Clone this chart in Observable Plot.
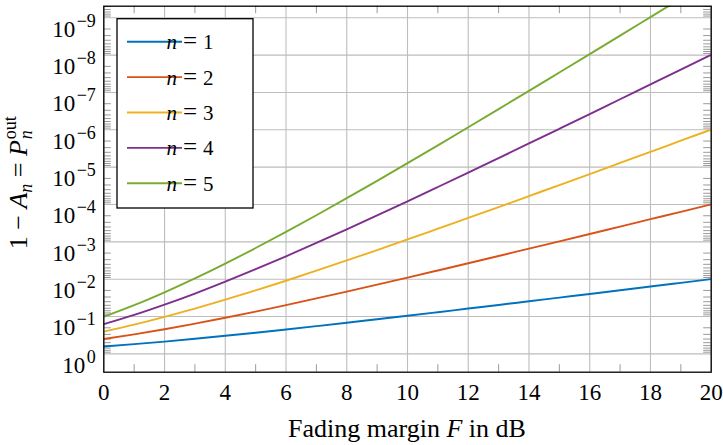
<!DOCTYPE html>
<html>
<head>
<meta charset="utf-8">
<script src="https://cdn.jsdelivr.net/npm/d3@7"></script>
<script src="https://cdn.jsdelivr.net/npm/@observablehq/plot@0.6"></script>
<style>
  html, body { margin: 0; padding: 0; background: #fff; }
  svg { display: block; }
  svg text, svg tspan { font-family: 'Liberation Serif', 'Times New Roman', Times, serif !important; }
</style>
</head>
<body>
<div id="chart"></div>
<script>
// ---- data ----
const fadingMarginDb = [0,1,2,3,4,5,6,7,8,9,10,11,12,13,14,15,16,17,18,19,20];
const seriesN = [1, 2, 3, 4, 5];
const seriesColors = ["#0072BD", "#D95319", "#EDB120", "#7E2F8E", "#77AC30"];
const pOutN1 = [0.632, 0.548, 0.468, 0.394, 0.328, 0.271, 0.222, 0.181, 0.147, 0.118, 0.0952, 0.0764, 0.0611, 0.0489, 0.0390, 0.0311, 0.0248, 0.0198, 0.0157, 0.0125, 0.00995];
const pOutN2 = [0.400, 0.300, 0.219, 0.155, 0.108, 0.0735, 0.0493, 0.0327, 0.0215, 0.0140, 0.00906, 0.00583, 0.00374, 0.00239, 0.00152, 9.69e-4, 6.16e-4, 3.90e-4, 2.47e-4, 1.57e-4, 9.90e-5];
const pOutN3 = [0.253, 0.165, 0.102, 0.0613, 0.0354, 0.0199, 0.0110, 5.92e-3, 3.15e-3, 1.66e-3, 8.63e-4, 4.45e-4, 2.29e-4, 1.17e-4, 5.94e-5, 3.02e-5, 1.53e-5, 7.71e-6, 3.88e-6, 1.96e-6, 9.85e-7];
const pOutN4 = [0.160, 0.0903, 0.0479, 0.0242, 0.0116, 5.40e-3, 2.43e-3, 1.07e-3, 4.62e-4, 1.96e-4, 8.21e-5, 3.40e-5, 1.40e-5, 5.71e-6, 2.32e-6, 9.39e-7, 3.79e-7, 1.52e-7, 6.11e-8, 2.45e-8, 9.80e-9];
const pOutN5 = [0.101, 0.0495, 0.0224, 9.52e-3, 3.82e-3, 1.46e-3, 5.40e-4, 1.94e-4, 6.77e-5, 2.32e-5, 7.82e-6, 2.60e-6, 8.54e-7, 2.79e-7, 9.06e-8, 2.92e-8, 9.40e-9, 3.01e-9, 9.60e-10, 3.06e-10, 9.75e-11];
const xTickValues = [0,2,4,6,8,10,12,14,16,18,20];
const xMinorTicks = [1,3,5,7,9,11,13,15,17,19];
const yTickExponents = [0,-1,-2,-3,-4,-5,-6,-7,-8,-9];
const yDomain = [3.09, 4.9e-10];
const xLabelParts = ["Fading margin ", "F", " in dB"];

// ---- build table ----
const seriesValues = [pOutN1, pOutN2, pOutN3, pOutN4, pOutN5];
const rows = seriesValues.flatMap((vals, i) =>
  vals.map((v, j) => ({dB: fadingMarginDb[j], p: v, n: seriesN[i]})));
const yTickValues = yTickExponents.map(e => Math.pow(10, e));
const yMinorTicks = [];
for (let e = 0; e >= -10; e--) for (let m = 2; m <= 9; m++) {
  const v = m * Math.pow(10, e - 1);
  if (v <= yDomain[0] && v >= yDomain[1]) yMinorTicks.push(v);
}

const FONT = "'Liberation Serif', 'Times New Roman', Times, serif";
const minorStroke = "#9a9a9a";
const W = 723, H = 445, mT = 5.7, mR = 12.3, mB = 73.3, mL = 103.3;
const plotW = W - mL - mR, plotH = H - mT - mB;
const minorLen = 7.5;

const plot = Plot.plot({
  width: W,
  height: H,
  marginTop: mT,
  marginRight: mR,
  marginBottom: mB,
  marginLeft: mL,
  style: {fontFamily: FONT, fontSize: "23px", background: "white", color: "black"},
  x: {domain: [0, 20]},
  y: {type: "log", domain: yDomain},
  color: {domain: seriesN, range: seriesColors},
  marks: [
    Plot.gridX(xTickValues, {stroke: "#bdbdbd", strokeOpacity: 1, strokeWidth: 1.1}),
    Plot.gridY(yTickValues, {stroke: "#bdbdbd", strokeOpacity: 1, strokeWidth: 1.1}),
    Plot.tickX(xMinorTicks, {x: d => d, stroke: minorStroke, insetTop: plotH - minorLen}),
    Plot.tickX(xMinorTicks, {x: d => d, stroke: minorStroke, insetBottom: plotH - minorLen}),
    Plot.tickY(yMinorTicks, {y: d => d, stroke: minorStroke, insetRight: plotW - minorLen}),
    Plot.tickY(yMinorTicks, {y: d => d, stroke: minorStroke, insetLeft: plotW - minorLen}),
    Plot.axisX(xTickValues, {anchor: "bottom", tickSize: 0, tickPadding: 11, label: null, fontSize: 23}),
    Plot.axisY(yTickValues, {anchor: "left", tickSize: 0, tickPadding: 8, label: null, fontSize: 23,
      tickFormat: d => String(Math.round(Math.log10(d)))}),
    Plot.line(rows, {x: "dB", y: "p", z: "n", stroke: "n", strokeWidth: 1.9, clip: true, curve: "monotone-x"}),
    Plot.frame({stroke: "black", strokeWidth: 1.3})
  ]
});
document.getElementById("chart").appendChild(plot);

const svg = d3.select(plot);
const xs = plot.scale("x"), ys = plot.scale("y");
const x0 = xs.apply(0), x1 = xs.apply(20);
const yTop = ys.apply(yDomain[1]), yBot = ys.apply(yDomain[0]);

svg.selectAll('g[aria-label="x-axis tick label"] text')
  .style("font-size", "23px").style("font-family", FONT);

// y tick labels: 10 with superscript exponent
svg.selectAll('g[aria-label="y-axis tick label"] text').each(function() {
  const t = d3.select(this);
  const exp = t.text();
  t.text("");
  t.attr("dy", 11.5).style("font-size", "23px").style("font-family", FONT);
  t.append("tspan").text("10");
  t.append("tspan").style("font-size", "18px").attr("dy", -10).attr("dx", 1.5).text(exp.replace("-", "\u2212"));
});

// x axis title
const xt = svg.append("text")
  .attr("x", (x0 + x1) / 2).attr("y", 436.5)
  .attr("text-anchor", "middle")
  .attr("font-family", FONT).attr("font-size", 26).attr("fill", "black");
xt.append("tspan").text(xLabelParts[0]);
xt.append("tspan").attr("font-style", "italic").text(xLabelParts[1]);
xt.append("tspan").text(xLabelParts[2]);

// y axis title: 1 − A_n = P_n^out
const yt = svg.append("text")
  .attr("transform", `translate(27,${(yTop + yBot) / 2 - 6}) rotate(-90)`)
  .attr("text-anchor", "middle")
  .attr("font-family", FONT).attr("font-size", 26).attr("fill", "black");
yt.append("tspan").text("1 \u2212 ");
yt.append("tspan").attr("font-style", "italic").text("A");
yt.append("tspan").attr("font-style", "italic").attr("font-size", 18).attr("dy", 5).text("n");
yt.append("tspan").attr("dy", -5).text(" = ");
yt.append("tspan").attr("font-style", "italic").text("P");
const sup = yt.append("tspan").attr("font-size", 18).attr("dy", -11).attr("dx", 1).text("out");
const supW = sup.node().getComputedTextLength();
yt.append("tspan").attr("font-style", "italic").attr("font-size", 18).attr("dy", 16).attr("dx", -supW).text("n");

// legend
const lg = svg.append("g").attr("font-family", FONT).attr("font-size", 21);
lg.append("rect").attr("x", 117).attr("y", 18.7).attr("width", 136).attr("height", 189.3)
  .attr("fill", "white").attr("stroke", "black").attr("stroke-width", 1.3);
seriesN.forEach((n, i) => {
  const yy = 41.7 + i * 35.4;
  lg.append("line").attr("x1", 127).attr("x2", 182).attr("y1", yy).attr("y2", yy)
    .attr("stroke", seriesColors[i]).attr("stroke-width", 1.9);
  const tx = lg.append("text").attr("x", 190).attr("y", yy + 7.5).attr("fill", "black");
  tx.append("tspan").attr("font-style", "italic").text("n");
  tx.append("tspan").attr("dx", 6).attr("font-size", 25).text("=");
  tx.append("tspan").attr("dx", 6).text(String(n));
});
</script>
</body>
</html>
